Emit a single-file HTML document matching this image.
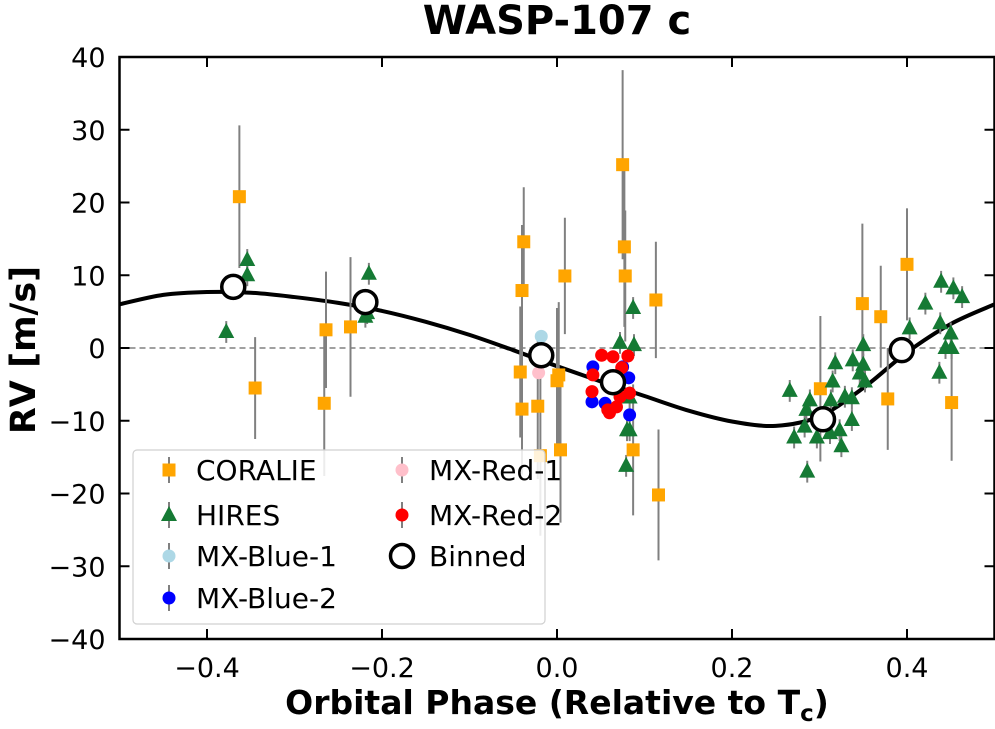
<!DOCTYPE html>
<html><head><meta charset="utf-8"><style>
body{margin:0;background:#fff;}
svg text{font-family:"DejaVu Sans","Liberation Sans",sans-serif;}
</style></head><body>
<svg id="chart" width="995" height="724" viewBox="0 0 995 724" xmlns="http://www.w3.org/2000/svg">
<text x="557" y="34" text-anchor="middle" font-size="40" font-weight="bold">WASP-107 c</text>
<text transform="translate(35,350) rotate(-90)" text-anchor="middle" font-size="35" font-weight="bold">RV [m/s]</text>
<text x="557" y="714" text-anchor="middle" font-size="33" font-weight="bold">Orbital Phase (Relative to T<tspan font-size="23" dy="7">c</tspan><tspan dy="-7">)</tspan></text>
<g id="plot"></g>
<g id="legend"></g>
</svg>
<script>
const xTicks=[-0.4,-0.2,0.0,0.2,0.4];
const xTickLabels=["\u22120.4","\u22120.2","0.0","0.2","0.4"];
const yTicks=[-40,-30,-20,-10,0,10,20,30,40];
const yTickLabels=["\u221240","\u221230","\u221220","\u221210","0","10","20","30","40"];
const modelPhase=[-0.5,-0.45,-0.4,-0.35,-0.3,-0.25,-0.2,-0.15,-0.1,-0.05,0,0.05,0.1,0.15,0.2,0.25,0.3,0.35,0.4,0.45,0.5];
const modelRV=[6.0,7.3,7.7,7.6,7.0,6.2,5.1,3.6,1.8,-0.3,-2.5,-4.6,-6.6,-8.6,-10.1,-10.7,-9.4,-5.5,-0.6,3.3,6.0];
const corPhase=[-0.363,-0.345,-0.266,-0.264,-0.236,-0.040,-0.038,-0.042,-0.040,-0.022,-0.019,0.002,0.000,0.004,0.009,0.075,0.077,0.078,0.113,0.087,0.116,0.301,0.349,0.370,0.400,0.378,0.451];
const corRV=[20.8,-5.5,-7.6,2.5,2.9,7.9,14.6,-3.3,-8.4,-8.0,-14.8,-3.7,-4.5,-14.0,9.9,25.2,13.9,9.9,6.6,-14.0,-20.2,-5.6,6.1,4.3,11.5,-7.0,-7.5];
const corErr=[9.8,7.0,10,8,9.6,9,7.5,9,9,10,11,10,10,10,8,13,11,9,8,9,9,10,11,7,7.7,7,8];
const hirPhase=[-0.354,-0.354,-0.378,-0.215,-0.219,-0.217,0.087,0.072,0.088,0.080,0.083,0.079,0.083,0.266,0.289,0.285,0.283,0.271,0.297,0.286,0.318,0.315,0.313,0.329,0.337,0.337,0.323,0.325,0.312,0.338,0.350,0.350,0.346,0.352,0.403,0.421,0.439,0.453,0.463,0.438,0.450,0.444,0.451,0.437];
const hirRV=[12.1,10.0,2.2,10.2,4.3,4.8,5.5,0.7,0.4,-11.3,-11.3,-16.2,-6.8,-5.9,-7.2,-8.5,-10.8,-12.3,-12.3,-17.0,-2.1,-4.6,-7.2,-6.7,-6.9,-9.9,-11.3,-13.5,-11.7,-1.7,0.4,-2.3,-3.5,-4.6,2.7,6.1,9.1,8.2,7.0,3.4,2.0,0.0,0.0,-3.4];
const hirErr=[1.5,1.5,1.5,1.5,1.5,1.5,1.5,1.5,1.5,1.5,1.5,1.5,1.5,1.5,1.5,1.5,1.5,1.5,1.5,1.5,1.5,1.5,1.5,1.5,1.5,1.5,1.5,1.5,1.5,1.5,1.5,1.5,1.5,1.5,1.5,1.5,1.5,1.5,1.5,1.5,1.5,1.5,1.5,1.5];
const b1Phase=[-0.018]; const b1RV=[1.6];
const r1Phase=[-0.021]; const r1RV=[-3.4];
const b2Phase=[0.041,0.040,0.055,0.082,0.083,0.075];
const b2RV=[-2.6,-7.4,-7.6,-4.1,-9.2,-2.6];
const r2Phase=[0.051,0.064,0.081,0.041,0.040,0.074,0.083,0.072,0.058,0.060,0.068];
const r2RV=[-1.0,-1.2,-1.1,-3.7,-6.0,-2.7,-6.2,-6.7,-8.5,-8.9,-8.1];
const binPhase=[-0.370,-0.219,-0.018,0.064,0.304,0.394];
const binRV=[8.4,6.3,-1.0,-4.7,-9.8,-0.3];

const L=119.5,R=994.5,T=57,B=639;
const xs=v=>L+(v+0.5)/1.0*(R-L);
const ys=v=>B-(v+40)/80*(B-T);
const NS="http://www.w3.org/2000/svg";
const plot=document.getElementById('plot');
function mk(tag,attrs,parent){const e=document.createElementNS(NS,tag);for(const k in attrs)e.setAttribute(k,attrs[k]);(parent||plot).appendChild(e);return e;}

const defs=mk('defs',{});const cp=mk('clipPath',{id:'clip'},defs);mk('rect',{x:L,y:T,width:R-L,height:B-T},cp);
const g=mk('g',{'clip-path':'url(#clip)'});
let e=mk('line',{x1:L,x2:R,y1:ys(0),y2:ys(0),stroke:'#808080','stroke-width':1.5,'stroke-dasharray':'6,4'},g);



let pts=modelPhase.map((p,i)=>[xs(p),ys(modelRV[i])]);
let d='M'+pts[0][0]+','+pts[0][1];
for(let i=0;i<pts.length-1;i++){const p0=pts[Math.max(0,i-1)],p1=pts[i],p2=pts[i+1],p3=pts[Math.min(pts.length-1,i+2)];
d+=' C'+(p1[0]+(p2[0]-p0[0])/6)+','+(p1[1]+(p2[1]-p0[1])/6)+' '+(p2[0]-(p3[0]-p1[0])/6)+','+(p2[1]-(p3[1]-p1[1])/6)+' '+p2[0]+','+p2[1];}
e=mk('path',{d:d,fill:'none',stroke:'#000','stroke-width':4},g);



function errbars(P,V,E){for(let i=0;i<P.length;i++){const el=mk('line',{x1:xs(P[i]),x2:xs(P[i]),y1:ys(V[i]-E[i]),y2:ys(V[i]+E[i]),stroke:'#808080','stroke-width':2},g);

}}
errbars(corPhase,corRV,corErr);
errbars(hirPhase,hirRV,hirErr);
for(let i=0;i<corPhase.length;i++){const x=xs(corPhase[i]),y=ys(corRV[i]);
const el=mk('rect',{x:x-6.5,y:y-6.5,width:13,height:13,fill:'orange'},g);

}
for(let i=0;i<hirPhase.length;i++){const x=xs(hirPhase[i]),y=ys(hirRV[i]);
const el=mk('polygon',{points:`${x},${y-9} ${x-8},${y+6} ${x+8},${y+6}`,fill:'#157a34'},g);

}
function dots(P,V,c,name){for(let i=0;i<P.length;i++){const el=mk('circle',{cx:xs(P[i]),cy:ys(V[i]),r:6.5,fill:c},g);

}}
dots(b1Phase,b1RV,'lightblue','mx-blue-1-point');
dots(r1Phase,r1RV,'pink','mx-red-1-point');
dots(b2Phase,b2RV,'blue','mx-blue-2-point');
dots(r2Phase,r2RV,'red','mx-red-2-point');
for(let i=0;i<binPhase.length;i++){const el=mk('circle',{cx:xs(binPhase[i]),cy:ys(binRV[i]),r:11.5,fill:'#fff',stroke:'#000','stroke-width':3.5},g);

}

e=mk('rect',{x:L,y:T,width:R-L,height:B-T,fill:'none',stroke:'#000','stroke-width':2.5});


xTicks.forEach((v,i)=>{const x=xs(v);
mk('line',{x1:x,x2:x,y1:B,y2:B-10,stroke:'#000','stroke-width':2});
mk('line',{x1:x,x2:x,y1:T,y2:T+10,stroke:'#000','stroke-width':2});
const t=mk('text',{x:x,y:B+38,'text-anchor':'middle','font-size':27});t.textContent=xTickLabels[i];

});
yTicks.forEach((v,i)=>{const y=ys(v);
mk('line',{x1:L,x2:L+10,y1:y,y2:y,stroke:'#000','stroke-width':2});
mk('line',{x1:R,x2:R-10,y1:y,y2:y,stroke:'#000','stroke-width':2});
const t=mk('text',{x:L-14,y:y+10,'text-anchor':'end','font-size':27});t.textContent=yTickLabels[i];

});

const lg=document.getElementById('legend');
mk('rect',{x:133,y:450,width:412,height:174,rx:4,fill:'#fff','fill-opacity':0.85,stroke:'#d0d0d0','stroke-width':1.2},lg);
const entries=[
 {x:169,y:470,t:'CORALIE',m:'sq',c:'orange'},
 {x:169,y:515,t:'HIRES',m:'tri',c:'#157a34'},
 {x:169,y:556,t:'MX-Blue-1',m:'dot',c:'lightblue'},
 {x:169,y:598,t:'MX-Blue-2',m:'dot',c:'blue'},
 {x:402,y:470,t:'MX-Red-1',m:'dot',c:'pink'},
 {x:402,y:515,t:'MX-Red-2',m:'dot',c:'red'},
 {x:402,y:556,t:'Binned',m:'bin',c:'#fff'}];
entries.forEach(en=>{const gg=mk('g',{},lg);


if(en.m!=='bin')mk('line',{x1:en.x,x2:en.x,y1:en.y-13,y2:en.y+13,stroke:'#808080','stroke-width':2},gg);
if(en.m==='sq')mk('rect',{x:en.x-6.5,y:en.y-6.5,width:13,height:13,fill:en.c},gg);
if(en.m==='tri')mk('polygon',{points:`${en.x},${en.y-9} ${en.x-8},${en.y+6} ${en.x+8},${en.y+6}`,fill:en.c},gg);
if(en.m==='dot')mk('circle',{cx:en.x,cy:en.y,r:6.5,fill:en.c},gg);
if(en.m==='bin')mk('circle',{cx:en.x,cy:en.y,r:11.5,fill:'#fff',stroke:'#000','stroke-width':3.5},gg);
const t=mk('text',{x:en.x+27,y:en.y+10,'font-size':28},gg);t.textContent=en.t;});
</script>
</body></html>
